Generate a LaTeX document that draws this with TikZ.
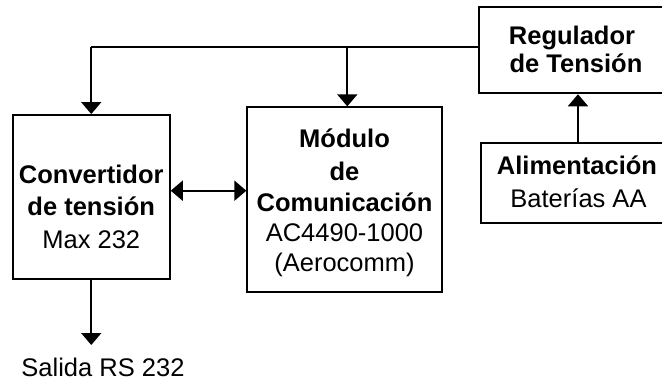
\documentclass[tikz,border=0pt]{standalone}
\usepackage{fontspec}
\setmainfont{Liberation Sans}
\usetikzlibrary{arrows.meta}
\begin{document}
\begin{tikzpicture}[x=1pt,y=-1pt,
  box/.style={draw,line width=1.9pt,minimum width=#1,inner sep=0pt},
  bt/.style={inner sep=0pt,anchor=base,font=\fontsize{25.5}{30}\selectfont\bfseries},
  rt/.style={inner sep=0pt,anchor=base,font=\fontsize{25.5}{30}\selectfont},
  conn/.style={line width=1.9pt,-{Triangle[width=20pt,length=12pt]}},
  dconn/.style={line width=1.9pt,{Triangle[width=20pt,length=12pt]}-{Triangle[width=20pt,length=12pt]}}
]
\useasboundingbox (0,0) rectangle (662,381);
% boxes
\node[box=157.1pt,minimum height=164pt] (conv) at (91.25,197) {};
\node[box=194.4pt,minimum height=184.7pt] (mod) at (344.5,199.65) {};
\node[box=191pt,minimum height=86pt] (reg) at (574.5,50.3) {};
\node[box=194pt,minimum height=79.4pt] (alim) at (578,183) {};
% texts
\node[bt] (c1) at (91.25,183.3) {Convertidor};
\node[bt] (c2) at (91.25,215) {de tensión};
\node[rt] (c3) at (91.25,248.3) {Max 232};
\node[bt] (m1) at (344.5,147.7) {Módulo};
\node[bt] (m2) at (344.5,180) {de};
\node[bt] (m3) at (344.5,211.7) {Comunicación};
\node[rt] (m4) at (344.5,241.7) {AC4490-1000};
\node[rt] (m5) at (344.5,271.7) {(Aerocomm)};
\node[bt] (r1) at (572,44.3) {Regulador};
\node[bt] (r2) at (576,72.7) {de Tensión};
\node[bt] (a1) at (577,174) {Alimentación};
\node[rt] (a2) at (578.5,207.3) {Baterías AA};
\node[rt] (sal) at (103,376.5) {Salida RS 232};
% connectors
\coordinate (j1) at (91.25,47.3);
\coordinate (j2) at (347.3,47.3);
\coordinate (outp) at (91.25,345);
\draw[line width=1.9pt] (reg.west |- j1) -- (j1);
\draw[conn] (j1) -- (conv.north);
\draw[conn] (j2) -- (j2 |- mod.north);
\draw[conn] (alim.north) -- (alim.north |- reg.south);
\draw[dconn] ([yshift=6.3pt]conv.east) -- ([yshift=6.3pt]conv.east -| mod.west);
\draw[conn] (conv.south) -- (outp);
\end{tikzpicture}
\end{document}
